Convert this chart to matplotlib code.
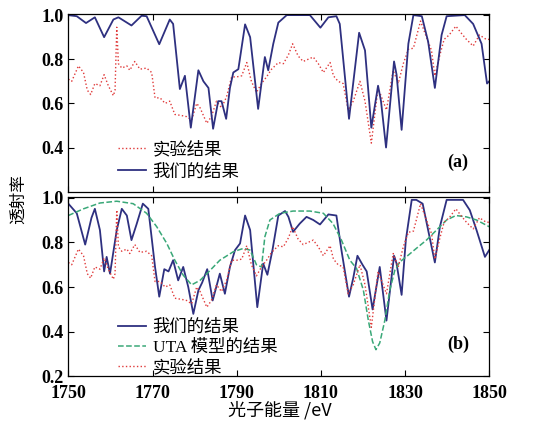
import matplotlib.pyplot as plt

# 数据：近似值
# 实验结果（两幅图共用）
exp_e = [1750, 1750.8, 1752.4, 1753.6, 1754.5, 1755.3, 1756.3, 1757.5, 1758.5, 1759.5,
         1760.7, 1761.1, 1761.5, 1761.9, 1762.7, 1763.9, 1764.6, 1765.8, 1767, 1768.6,
         1769.8, 1770.6, 1771.8, 1773, 1774.1, 1775.3, 1776.9, 1778.1, 1779.3, 1780.5,
         1781.3, 1782.9, 1784, 1785.2, 1786.4, 1787.6, 1788.8, 1790, 1791.2, 1792.4,
         1793.5, 1794.7, 1795.9, 1797.1, 1798.3, 1799.9, 1801.1, 1802.3, 1803.3, 1804.6,
         1805.8, 1807, 1808.2, 1809.4, 1810.6, 1812.2, 1813, 1814.1, 1815.3, 1816.5,
         1817.7, 1819.3, 1820.5, 1822, 1823.6, 1824.4, 1825.6, 1827.2, 1828.4, 1829.6,
         1830.8, 1832, 1833.7, 1835.1, 1836.3, 1837.1, 1838.3, 1839.3, 1840.5, 1842.1,
         1843.3, 1844.6, 1846.2, 1847.7, 1849.3, 1850]
exp_t = [0.71, 0.70, 0.77, 0.74, 0.66, 0.64, 0.69, 0.68, 0.73, 0.68,
         0.635, 0.66, 0.945, 0.78, 0.76, 0.77, 0.75, 0.79, 0.755, 0.76,
         0.74, 0.625, 0.625, 0.60, 0.61, 0.55, 0.545, 0.54, 0.525, 0.60,
         0.58, 0.51, 0.54, 0.61, 0.58, 0.63, 0.72, 0.72, 0.725, 0.785,
         0.70, 0.65, 0.69, 0.72, 0.755, 0.785, 0.78, 0.82, 0.87, 0.815,
         0.79, 0.80, 0.81, 0.78, 0.74, 0.785, 0.725, 0.70, 0.69, 0.57,
         0.61, 0.70, 0.61, 0.42, 0.67, 0.63, 0.57, 0.75, 0.69, 0.78,
         0.845, 0.85, 0.973, 0.90, 0.84, 0.725, 0.82, 0.89, 0.91, 0.95,
         0.92, 0.89, 0.86, 0.91, 0.89, 0.89]

# (a) 我们的结果
a_e = [1750, 1752, 1754.2, 1756.3, 1758.5, 1760.7, 1761.9, 1765, 1767.4, 1768.6,
       1771.6, 1774.1, 1774.9, 1776.5, 1777.7, 1779.1, 1780.9, 1782.1, 1783.3, 1784.4,
       1785.6, 1786.4, 1787.5, 1788.4, 1789.2, 1790.4, 1792, 1793.2, 1795.1, 1796.7,
       1797.5, 1798.7, 1799.9, 1801.9, 1807.4, 1809.9, 1811.8, 1813.7, 1814.5, 1816.7,
       1819.1, 1820.5, 1822, 1823.6, 1824.3, 1825.5, 1827.4, 1828, 1829.2, 1830.8,
       1832, 1834, 1835.5, 1837.1, 1838.7, 1839.9, 1844.2, 1846.2, 1848.2, 1849.5, 1850]
a_t = [1.0, 0.995, 0.964, 0.99, 0.90, 0.98, 0.99, 0.953, 0.997, 0.995,
       0.868, 0.98, 0.96, 0.665, 0.725, 0.49, 0.75, 0.70, 0.67, 0.485,
       0.61, 0.61, 0.53, 0.67, 0.74, 0.755, 0.958, 0.90, 0.575, 0.81,
       0.75, 0.87, 0.966, 1.0, 1.0, 0.943, 0.99, 0.995, 0.96, 0.53,
       0.92, 0.84, 0.49, 0.68, 0.61, 0.40, 0.79, 0.73, 0.48, 0.87,
       1.0, 0.995, 0.88, 0.67, 0.91, 0.995, 1.0, 0.96, 0.87, 0.69, 0.70]

# (b) 我们的结果
b_e = [1750, 1752, 1754, 1755.5, 1756.3, 1757.5, 1758.5, 1759.1, 1759.9, 1761.5,
       1762.7, 1763.9, 1765, 1766.2, 1767.7, 1769, 1770.6, 1771.6, 1772.8, 1773.8,
       1774.9, 1776.1, 1777.3, 1778.5, 1779.7, 1780.9, 1781.8, 1783, 1784.3, 1786,
       1787.2, 1788.4, 1789.6, 1790.8, 1792, 1793.2, 1794.9, 1796.3, 1797.3, 1798.5,
       1799.9, 1801.5, 1802.3, 1803.4, 1805, 1806.6, 1808.2, 1809.8, 1811.8, 1813.7,
       1814.9, 1816.7, 1817.7, 1818.7, 1819.9, 1820.9, 1822.3, 1824, 1825.6, 1827.4,
       1828, 1829.2, 1830.2, 1831.6, 1832.7, 1834.2, 1835.5, 1837.1, 1838.3, 1839.9,
       1843.8, 1845.4, 1847, 1849, 1850]
b_t = [0.973, 0.93, 0.79, 0.91, 0.95, 0.855, 0.67, 0.735, 0.66, 0.855,
       0.95, 0.92, 0.81, 0.88, 0.973, 0.95, 0.69, 0.557, 0.68, 0.67,
       0.72, 0.63, 0.69, 0.60, 0.48, 0.585, 0.62, 0.68, 0.54, 0.66,
       0.57, 0.69, 0.765, 0.795, 0.92, 0.855, 0.51, 0.705, 0.655, 0.765,
       0.92, 0.94, 0.914, 0.847, 0.884, 0.914, 0.90, 0.88, 0.925, 0.92,
       0.765, 0.557, 0.64, 0.74, 0.70, 0.67, 0.50, 0.69, 0.45, 0.74,
       0.705, 0.565, 0.81, 0.99, 0.99, 0.973, 0.855, 0.71, 0.87, 0.99,
       0.99, 0.944, 0.855, 0.735, 0.765]

# (b) UTA 模型的结果
uta_e = [1750, 1753.6, 1757.5, 1761.5, 1765.4, 1768.6, 1771, 1773.4, 1775.3, 1777.3,
         1779.3, 1781.3, 1783.7, 1786, 1789.2, 1791.6, 1793.2, 1794.7, 1795.9, 1796.7,
         1797.9, 1800.3, 1803.4, 1807.4, 1810.6, 1812.9, 1814.9, 1816.9, 1818.5, 1820.1,
         1821.3, 1822.3, 1823.1, 1824, 1825.2, 1826.4, 1827.6, 1828.8, 1830.8, 1832.7,
         1835.1, 1837.5, 1839.9, 1842.1, 1844.6, 1847, 1850]
uta_t = [0.92, 0.95, 0.976, 0.984, 0.973, 0.93, 0.87, 0.795, 0.72, 0.653,
         0.61, 0.63, 0.675, 0.72, 0.758, 0.773, 0.765, 0.70, 0.69, 0.825,
         0.90, 0.93, 0.94, 0.94, 0.93, 0.884, 0.81, 0.72, 0.683, 0.587,
         0.45, 0.356, 0.32, 0.35, 0.45, 0.587, 0.676, 0.713, 0.743, 0.773,
         0.81, 0.855, 0.90, 0.92, 0.914, 0.90, 0.87]

x_ticks = [1750, 1770, 1790, 1810, 1830, 1850]

blue = '#2e3080'
red = '#e03a3a'
green = '#3aa878'
num_font = {'family': 'Liberation Serif', 'weight': 'bold', 'size': 13}
cjk = ['Noto Sans CJK SC', 'DejaVu Sans']
leg_font = {'family': ['Liberation Serif', 'Noto Sans CJK SC'], 'size': 12.5}

fig = plt.figure(figsize=(5.34, 4.32), dpi=100)
ax1 = fig.add_axes([0.128, 0.5563, 0.788, 0.4113])
ax2 = fig.add_axes([0.128, 0.1285, 0.788, 0.4166])

ax1.plot(exp_e, exp_t, color=red, lw=1.0, ls=':', label='实验结果')
ax1.plot(a_e, a_t, color=blue, lw=1.3, label='我们的结果')
ax2.plot(b_e, b_t, color=blue, lw=1.3, label='我们的结果')
ax2.plot(uta_e, uta_t, color=green, lw=1.1, ls='--', label='UTA 模型的结果')
ax2.plot(exp_e, exp_t, color=red, lw=1.0, ls=':', label='实验结果')

for ax in (ax1, ax2):
    ax.set_xlim(1750, 1850)
    ax.set_ylim(0.2, 1.005)
    ax.set_xticks(x_ticks)
    ax.tick_params(direction='in', top=True, right=True, length=4, width=0.8)
    ax.tick_params(axis='x', pad=6)
    for s in ax.spines.values():
        s.set_linewidth(0.9)

ax1.set_yticks([0.4, 0.6, 0.8, 1.0])
ax1.set_yticklabels(['0.4', '0.6', '0.8', '1.0'], fontdict=num_font)
ax1.set_xticklabels([])
ax2.set_yticks([0.2, 0.4, 0.6, 0.8, 1.0])
ax2.set_yticklabels(['0.2', '0.4', '0.6', '0.8', '1.0'], fontdict=num_font)
ax2.set_xticklabels([str(v) for v in x_ticks], fontdict=num_font)

leg_kw = dict(frameon=False, prop=leg_font, handlelength=1.6, handletextpad=0.4,
              borderpad=0, borderaxespad=0)
ax1.legend(loc='center left', bbox_to_anchor=(0.118, 0.173), labelspacing=0.35, **leg_kw)
ax2.legend(loc='center left', bbox_to_anchor=(0.118, 0.158), labelspacing=0.2, **leg_kw)
ax1.text(0.90, 0.167, '(a)', transform=ax1.transAxes, va='center', fontdict=num_font)
ax2.text(0.90, 0.18, '(b)', transform=ax2.transAxes, va='center', fontdict=num_font)

fig.text(0.035, 0.54, '透射率', rotation=90, va='center', ha='center', family=cjk, fontsize=12)
fig.text(0.524, 0.051, '光子能量 /eV', va='center', ha='center', family=cjk, fontsize=13)

fig.savefig('out.png', dpi=100)
